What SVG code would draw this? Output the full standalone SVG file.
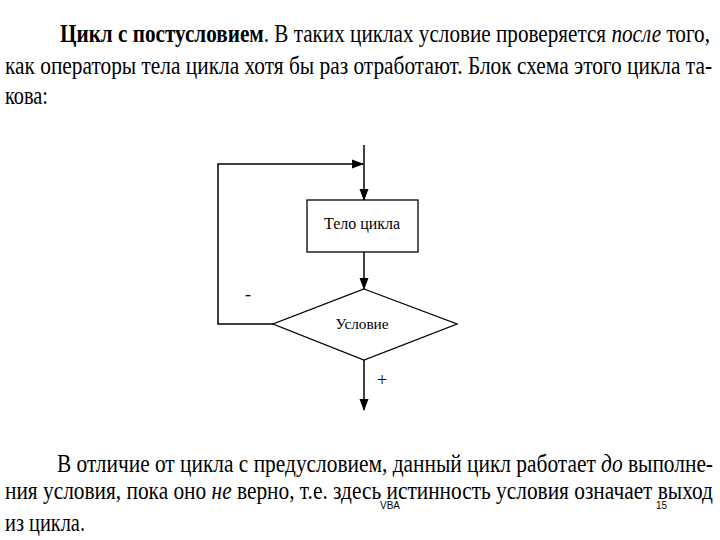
<svg xmlns="http://www.w3.org/2000/svg" width="720" height="540" viewBox="0 0 720 540">
<style>
.t{font-family:'Liberation Serif','Times New Roman','DejaVu Serif',serif;font-size:25px;fill:#000}
.d{font-family:'Liberation Serif','Times New Roman','DejaVu Serif',serif;fill:#000}
.s{font-family:'Liberation Sans',Arial,sans-serif;font-size:10px;fill:#000}
.ln{stroke:#000;stroke-width:1.5;fill:none}
.sh{stroke:#000;stroke-width:1.3;fill:#fff}
</style>
<defs>
<marker id="ah" markerWidth="12" markerHeight="10" refX="11" refY="5" orient="auto" markerUnits="userSpaceOnUse"><path d="M0,0.5 L12,5 L0,9.5 Z" fill="#000"/></marker>
</defs>
<rect width="720" height="540" fill="#fff"/>
<g id="text-top">
<text class="t" x="60" y="42" textLength="650" lengthAdjust="spacingAndGlyphs"><tspan font-weight="bold">Цикл с постусловием</tspan>. В таких циклах условие проверяется <tspan font-style="italic">после</tspan> того,</text>
<text class="t" x="5" y="74" textLength="707" lengthAdjust="spacingAndGlyphs">как операторы тела цикла хотя бы раз отработают. Блок схема этого цикла та-</text>
<text class="t" x="5" y="104" textLength="43" lengthAdjust="spacingAndGlyphs">кова:</text>
</g>
<g id="connectors">
<line class="ln" x1="364" y1="145" x2="364" y2="200" marker-end="url(#ah)"/>
<polyline class="ln" points="273,324 218,324 218,164 363,164" marker-end="url(#ah)"/>
<line class="ln" x1="364" y1="252" x2="364" y2="289" marker-end="url(#ah)"/>
<line class="ln" x1="364" y1="360" x2="364" y2="410" marker-end="url(#ah)"/>
<text class="d" x="245" y="300" font-size="18">-</text>
<text class="d" x="377" y="386" font-size="18">+</text>
</g>
<g id="body">
<rect class="sh" x="307" y="200" width="111" height="52"/>
<text class="d" x="362" y="229" font-size="17" text-anchor="middle" textLength="76" lengthAdjust="spacingAndGlyphs">Тело цикла</text>
</g>
<g id="cond">
<polygon class="sh" points="364,289 457,324 364,360 273,324"/>
<text class="d" x="362" y="329" font-size="15" text-anchor="middle" textLength="53" lengthAdjust="spacingAndGlyphs">Условие</text>
</g>
<g id="text-bottom">
<text class="t" x="57" y="472" textLength="656" lengthAdjust="spacingAndGlyphs">В отличие от цикла с предусловием, данный цикл работает <tspan font-style="italic">до</tspan> выполне-</text>
<text class="t" x="5" y="499" textLength="708" lengthAdjust="spacingAndGlyphs">ния условия, пока оно <tspan font-style="italic">не</tspan> верно, т.е. здесь истинность условия означает выход</text>
<text class="t" x="5" y="531" textLength="80" lengthAdjust="spacingAndGlyphs">из цикла.</text>
<text class="s" x="380" y="509">VBA</text>
<text class="s" x="656" y="509">15</text>
</g>
</svg>
